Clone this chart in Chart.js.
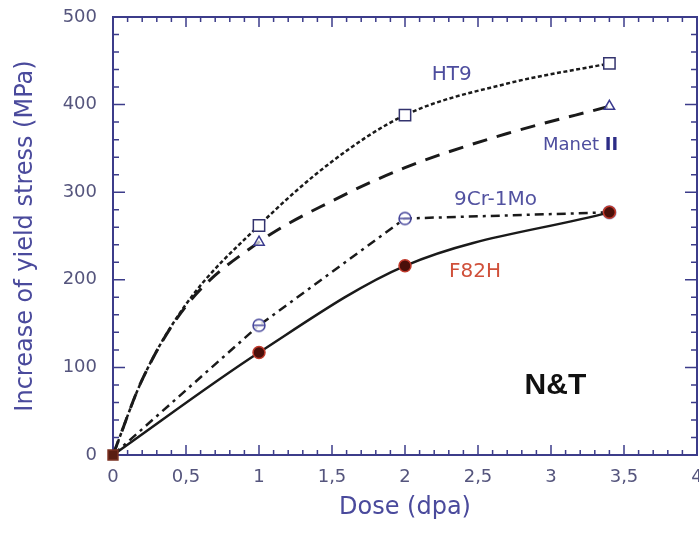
<!DOCTYPE html>
<html>
<head>
<meta charset="utf-8">
<script src="https://cdn.jsdelivr.net/npm/chart.js@4.4.1/dist/chart.umd.min.js"></script>
<style>
  html, body { margin: 0; padding: 0; background: #fff; }
  #wrap { width: 699px; height: 537px; }
</style>
</head>
<body>
<div id="wrap"><canvas id="yieldChart" width="699" height="537"></canvas></div>
<script>
// Dose (dpa) and increase of yield stress (MPa) along each curve.
// The *Measured lists hold the indices that carry a data marker.
const ht9Dose = [0, 0.2, 0.5, 1, 1.5, 2, 2.7, 3.4];
const ht9Stress = [0, 86, 172, 262, 335, 388, 424, 447];
const ht9Measured = [3, 5, 7];

const manetDose = [0, 0.2, 0.5, 1, 1.5, 2, 2.7, 3.4];
const manetStress = [0, 86, 170, 243, 290, 328, 367, 398];
const manetMeasured = [3, 7];

const cr9Dose = [0, 1, 2, 3.4];
const cr9Stress = [0, 148, 270, 277];
const cr9Measured = [1, 2, 3];

const f82hDose = [0, 1, 2, 3.4];
const f82hStress = [0, 117, 216, 277];
const f82hMeasured = [0, 1, 2, 3];

const xTicks = [0, 0.5, 1, 1.5, 2, 2.5, 3, 3.5, 4];
const xTickLabels = ['0', '0,5', '1', '1,5', '2', '2,5', '3', '3,5', '4'];
const yTicks = [0, 100, 200, 300, 400, 500];

const NAVY = '#3c3c8a';
const INK = '#1a1a1a';
const FONT = '"DejaVu Sans", sans-serif';

function points(dose, stress) {
    return dose.map((d, i) => ({ x: d, y: stress[i] }));
}

function radii(n, measured, r) {
    return Array.from({ length: n }, (_, i) => measured.includes(i) ? r : 0);
}

// circle with a bar through it, used for 9Cr-1Mo
function barCircle() {
    const c = document.createElement('canvas');
    c.width = 16; c.height = 16;
    const g = c.getContext('2d');
    g.strokeStyle = '#45459a';
    g.lineWidth = 1.5;
    g.fillStyle = 'rgba(255,255,255,0.85)';
    g.beginPath();
    g.arc(8, 8, 6, 0, Math.PI * 2);
    g.fill();
    g.stroke();
    g.beginPath();
    g.moveTo(2, 8);
    g.lineTo(14, 8);
    g.stroke();
    return c;
}

// frame with inward ticks on all four sides
const frameTicks = {
    id: 'frameTicks',
    beforeDatasetsDraw(chart) {
        const { ctx, chartArea: a } = chart;
        const xs = chart.scales.x, ys = chart.scales.y;
        ctx.save();
        ctx.strokeStyle = NAVY;
        ctx.lineWidth = 1.5;
        ctx.beginPath();
        for (let i = 0; i <= 40; i++) {
            const px = xs.getPixelForValue(i / 10);
            const len = i % 5 === 0 ? 10 : 5;
            ctx.moveTo(px, a.bottom); ctx.lineTo(px, a.bottom - len);
            ctx.moveTo(px, a.top); ctx.lineTo(px, a.top + len);
        }
        for (let v = 0; v <= 500; v += 20) {
            const py = ys.getPixelForValue(v);
            const len = v % 100 === 0 ? 12 : 6;
            ctx.moveTo(a.left, py); ctx.lineTo(a.left + len, py);
            ctx.moveTo(a.right, py); ctx.lineTo(a.right - len, py);
        }
        ctx.stroke();
        ctx.lineWidth = 2;
        ctx.strokeRect(a.left, a.top, a.right - a.left, a.bottom - a.top);
        ctx.restore();
    }
};

// curve names and the N&T tag
const curveLabels = {
    id: 'curveLabels',
    afterDatasetsDraw(chart) {
        const { ctx } = chart;
        const xs = chart.scales.x, ys = chart.scales.y;
        const at = (x, y) => [xs.getPixelForValue(x), ys.getPixelForValue(y)];
        ctx.save();
        ctx.textBaseline = 'middle';
        ctx.textAlign = 'center';

        ctx.font = '20px ' + FONT;
        ctx.fillStyle = '#4d4d9e';
        ctx.fillText('HT9', ...at(2.32, 434));

        ctx.fillStyle = '#5252a0';
        ctx.fillText('9Cr-1Mo', ...at(2.62, 291));

        ctx.fillStyle = '#d0503a';
        ctx.fillText('F82H', ...at(2.48, 209));

        ctx.textAlign = 'left';
        ctx.font = '18px ' + FONT;
        ctx.fillStyle = '#4d4d9e';
        const [mx, my] = at(2.945, 354);
        ctx.fillText('Manet ', mx, my);
        const w = ctx.measureText('Manet ').width;
        ctx.font = 'bold 18px ' + FONT;
        ctx.fillStyle = '#2c2c86';
        ctx.fillText('II', mx + w, my);

        ctx.textAlign = 'center';
        ctx.font = 'bold 30px "Liberation Sans", Arial, sans-serif';
        ctx.fillStyle = '#111';
        ctx.fillText('N&T', ...at(3.03, 79));
        ctx.restore();
    }
};

const f82hStyles = f82hDose.map((_, i) => i === 0 ? 'rect' : 'circle');

new Chart(document.getElementById('yieldChart'), {
    type: 'line',
    data: {
        datasets: [
            {
                label: 'F82H',
                data: points(f82hDose, f82hStress),
                borderColor: INK,
                borderWidth: 2.5,
                cubicInterpolationMode: 'monotone',
                pointRadius: radii(f82hDose.length, f82hMeasured, 6).map((r, i) => i === 0 ? 7 : r),
                pointStyle: f82hStyles,
                pointBackgroundColor: f82hDose.map((_, i) => i === 0 ? '#5a1e12' : '#4a0f0a'),
                pointBorderColor: f82hDose.map((_, i) => i === 0 ? '#7a3020' : '#c0392b'),
                pointBorderWidth: 1.5,
                clip: false
            },
            {
                label: '9Cr-1Mo',
                data: points(cr9Dose, cr9Stress),
                borderColor: INK,
                borderWidth: 2.5,
                borderDash: [9, 5, 3, 5],
                tension: 0,
                pointRadius: radii(cr9Dose.length, cr9Measured, 6),
                pointStyle: barCircle(),
                clip: false
            },
            {
                label: 'Manet II',
                data: points(manetDose, manetStress),
                borderColor: INK,
                borderWidth: 3,
                borderDash: [15, 10],
                cubicInterpolationMode: 'monotone',
                pointRadius: radii(manetDose.length, manetMeasured, 6),
                pointStyle: 'triangle',
                pointBackgroundColor: 'rgba(255,255,255,0.7)',
                pointBorderColor: '#3a3a8e',
                pointBorderWidth: 1.5,
                clip: false
            },
            {
                label: 'HT9',
                data: points(ht9Dose, ht9Stress),
                borderColor: INK,
                borderWidth: 2.5,
                borderDash: [4, 2.5],
                cubicInterpolationMode: 'monotone',
                pointRadius: radii(ht9Dose.length, ht9Measured, 8),
                pointStyle: 'rect',
                pointBackgroundColor: '#fff',
                pointBorderColor: '#33336e',
                pointBorderWidth: 1.5,
                clip: false
            }
        ]
    },
    options: {
        responsive: false,
        animation: false,
        layout: { autoPadding: false, padding: { top: 17, right: 2, left: 0, bottom: 0 } },
        plugins: {
            legend: { display: false },
            tooltip: { enabled: false }
        },
        scales: {
            x: {
                type: 'linear',
                min: 0,
                max: 4,
                afterFit(scale) {
                    scale.height = 82;
                    scale.paddingLeft = 0;
                    scale.paddingRight = 0;
                },
                afterBuildTicks(scale) { scale.ticks = xTicks.map(v => ({ value: v })); },
                grid: { display: false, drawTicks: false },
                border: { display: false },
                ticks: {
                    autoSkip: false,
                    maxRotation: 0,
                    padding: 12,
                    color: '#55557d',
                    font: { family: FONT, size: 18 },
                    callback: (v) => xTickLabels[xTicks.indexOf(v)]
                },
                title: {
                    display: true,
                    text: 'Dose (dpa)',
                    color: '#4a4a9c',
                    font: { family: FONT, size: 24 },
                    padding: { top: 0, bottom: 15 }
                }
            },
            y: {
                min: 0,
                max: 500,
                afterFit(scale) {
                    scale.width = 113;
                    scale.paddingTop = 0;
                    scale.paddingBottom = 0;
                },
                afterBuildTicks(scale) { scale.ticks = yTicks.map(v => ({ value: v })); },
                grid: { display: false, drawTicks: false },
                border: { display: false },
                ticks: {
                    padding: 16,
                    color: '#55557d',
                    font: { family: FONT, size: 18 }
                },
                title: {
                    display: true,
                    text: 'Increase of yield stress (MPa)',
                    color: '#4a4a9c',
                    font: { family: FONT, size: 24 },
                    padding: { top: 11, bottom: 0 }
                }
            }
        }
    },
    plugins: [frameTicks, curveLabels]
});
</script>
</body>
</html>
